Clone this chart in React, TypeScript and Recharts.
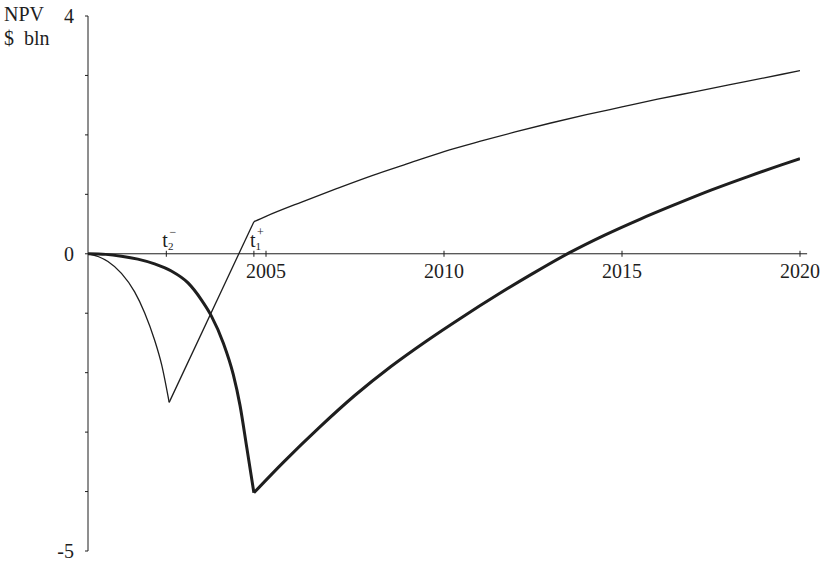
import { LineChart, Line, XAxis, YAxis, ReferenceLine, ReferenceDot } from "recharts"

// NPV paths, $ bln by year; each piece is monotone so the kinks stay sharp
const thinDownYears = [2000, 2000.3, 2000.56, 2000.94, 2001.31, 2001.59, 2001.87, 2002.07, 2002.28]
const thinDownNpv = [0, -0.05, -0.13, -0.33, -0.64, -0.99, -1.45, -1.87, -2.5]
const thinRiseYears = [2002.28, 2004.66]
const thinRiseNpv = [-2.5, 0.54]
const thinLateYears = [2004.66, 2005, 2006, 2007, 2008, 2009, 2010, 2011, 2012, 2013, 2014, 2015, 2016, 2017, 2018, 2019, 2020]
const thinLateNpv = [0.54, 0.63, 0.87, 1.1, 1.32, 1.52, 1.72, 1.89, 2.05, 2.2, 2.34, 2.47, 2.6, 2.72, 2.84, 2.96, 3.08]

const thickDownYears = [2000, 2000.5, 2000.94, 2001.4, 2001.87, 2002.34, 2002.81, 2003.18, 2003.46, 2003.8, 2004.08, 2004.27, 2004.46, 2004.66]
const thickDownNpv = [0, -0.01, -0.04, -0.09, -0.17, -0.29, -0.49, -0.77, -1.04, -1.5, -2.03, -2.55, -3.26, -4.02]
const thickUpYears = [2004.66, 2005.5, 2006.5, 2007.5, 2008.5, 2009.5, 2010.5, 2011.5, 2012.5, 2013.5, 2014.5, 2015.5, 2016.5, 2017.5, 2018.5, 2019.5, 2020]
const thickUpNpv = [-4.02, -3.5, -2.92, -2.38, -1.9, -1.47, -1.07, -0.69, -0.33, 0.01, 0.31, 0.58, 0.83, 1.07, 1.29, 1.5, 1.6]

const yTicks = [-5, -4, -3, -2, -1, 0, 1, 2, 3, 4]
const yLabelled = [4, 0, -5]
const xTicks = [2005, 2010, 2015, 2020]
const t2Minus = 2002.2
const t1Plus = 2004.66

const toRows = (years: number[], npv: number[]) => years.map((year, i) => ({ year, npv: npv[i] }))

const FONT = "'Liberation Serif', 'Times New Roman', serif"
const INK = "#1e1e1e"

const YearTick = (props: any) => {
  const { cx, cy, label } = props
  return (
    <g>
      <line x1={cx} y1={cy - 3} x2={cx} y2={cy + 3} stroke={INK} strokeWidth={1} />
      <text x={cx} y={cy + 24} textAnchor="middle" fontFamily={FONT} fontSize={20} fill={INK}>
        {label}
      </text>
    </g>
  )
}

const MomentTick = (props: any) => {
  const { cx, cy, sub, sup } = props
  return (
    <g>
      <line x1={cx} y1={cy - 3} x2={cx} y2={cy + 3} stroke={INK} strokeWidth={1} />
      <text x={cx - 4} y={cy - 7} fontFamily={FONT} fontSize={20} fill={INK}>
        t
        <tspan dy={3} fontSize={11}>{sub}</tspan>
        <tspan dx={-4} dy={-14} fontSize={12}>{sup}</tspan>
      </text>
    </g>
  )
}

export default function App() {
  const lineProps = {
    dataKey: "npv",
    type: "monotone" as const,
    dot: false,
    activeDot: false,
    stroke: INK,
    isAnimationActive: false,
  }

  return (
    <div style={{ position: "absolute", left: 0, top: 0, width: 825, height: 564, background: "#fff" }}>
      <div style={{ position: "absolute", left: 4, top: 2, fontFamily: FONT, fontSize: 20, color: INK, lineHeight: "24px" }}>
        NPV
        <br />$&nbsp;&nbsp;bln
      </div>
      <LineChart width={825} height={564} margin={{ top: 16, right: 25, bottom: 13, left: 0 }}>
        <XAxis dataKey="year" type="number" domain={[2000, 2020]} allowDataOverflow hide height={0} />
        <YAxis
          type="number"
          domain={[-5, 4]}
          ticks={yTicks}
          interval={0}
          width={88}
          axisLine={{ stroke: INK, strokeWidth: 1 }}
          tickLine={{ stroke: INK }}
          tickSize={3}
          tickMargin={11}
          tickFormatter={(v: number) => (yLabelled.includes(v) ? String(v) : "")}
          tick={{ fontFamily: FONT, fontSize: 20, fill: INK }}
        />
        <ReferenceLine
          segment={[{ x: 2000, y: 0 }, { x: 2020.2, y: 0 }]}
          stroke={INK}
          strokeWidth={1}
          ifOverflow="visible"
        />
        {xTicks.map((year) => (
          <ReferenceDot
            key={year}
            x={year}
            y={0}
            ifOverflow="visible"
            shape={(p: any) => <YearTick {...p} label={String(year)} />}
          />
        ))}
        <ReferenceDot x={t2Minus} y={0} shape={(p: any) => <MomentTick {...p} sub="2" sup="−" />} />
        <ReferenceDot x={t1Plus} y={0} shape={(p: any) => <MomentTick {...p} sub="1" sup="+" />} />

        <Line {...lineProps} data={toRows(thinDownYears, thinDownNpv)} strokeWidth={1.3} />
        <Line {...lineProps} data={toRows(thinRiseYears, thinRiseNpv)} type="linear" strokeWidth={1.3} />
        <Line {...lineProps} data={toRows(thinLateYears, thinLateNpv)} strokeWidth={1.3} />
        <Line {...lineProps} data={toRows(thickDownYears, thickDownNpv)} strokeWidth={3} />
        <Line {...lineProps} data={toRows(thickUpYears, thickUpNpv)} strokeWidth={3} />
      </LineChart>
    </div>
  )
}
